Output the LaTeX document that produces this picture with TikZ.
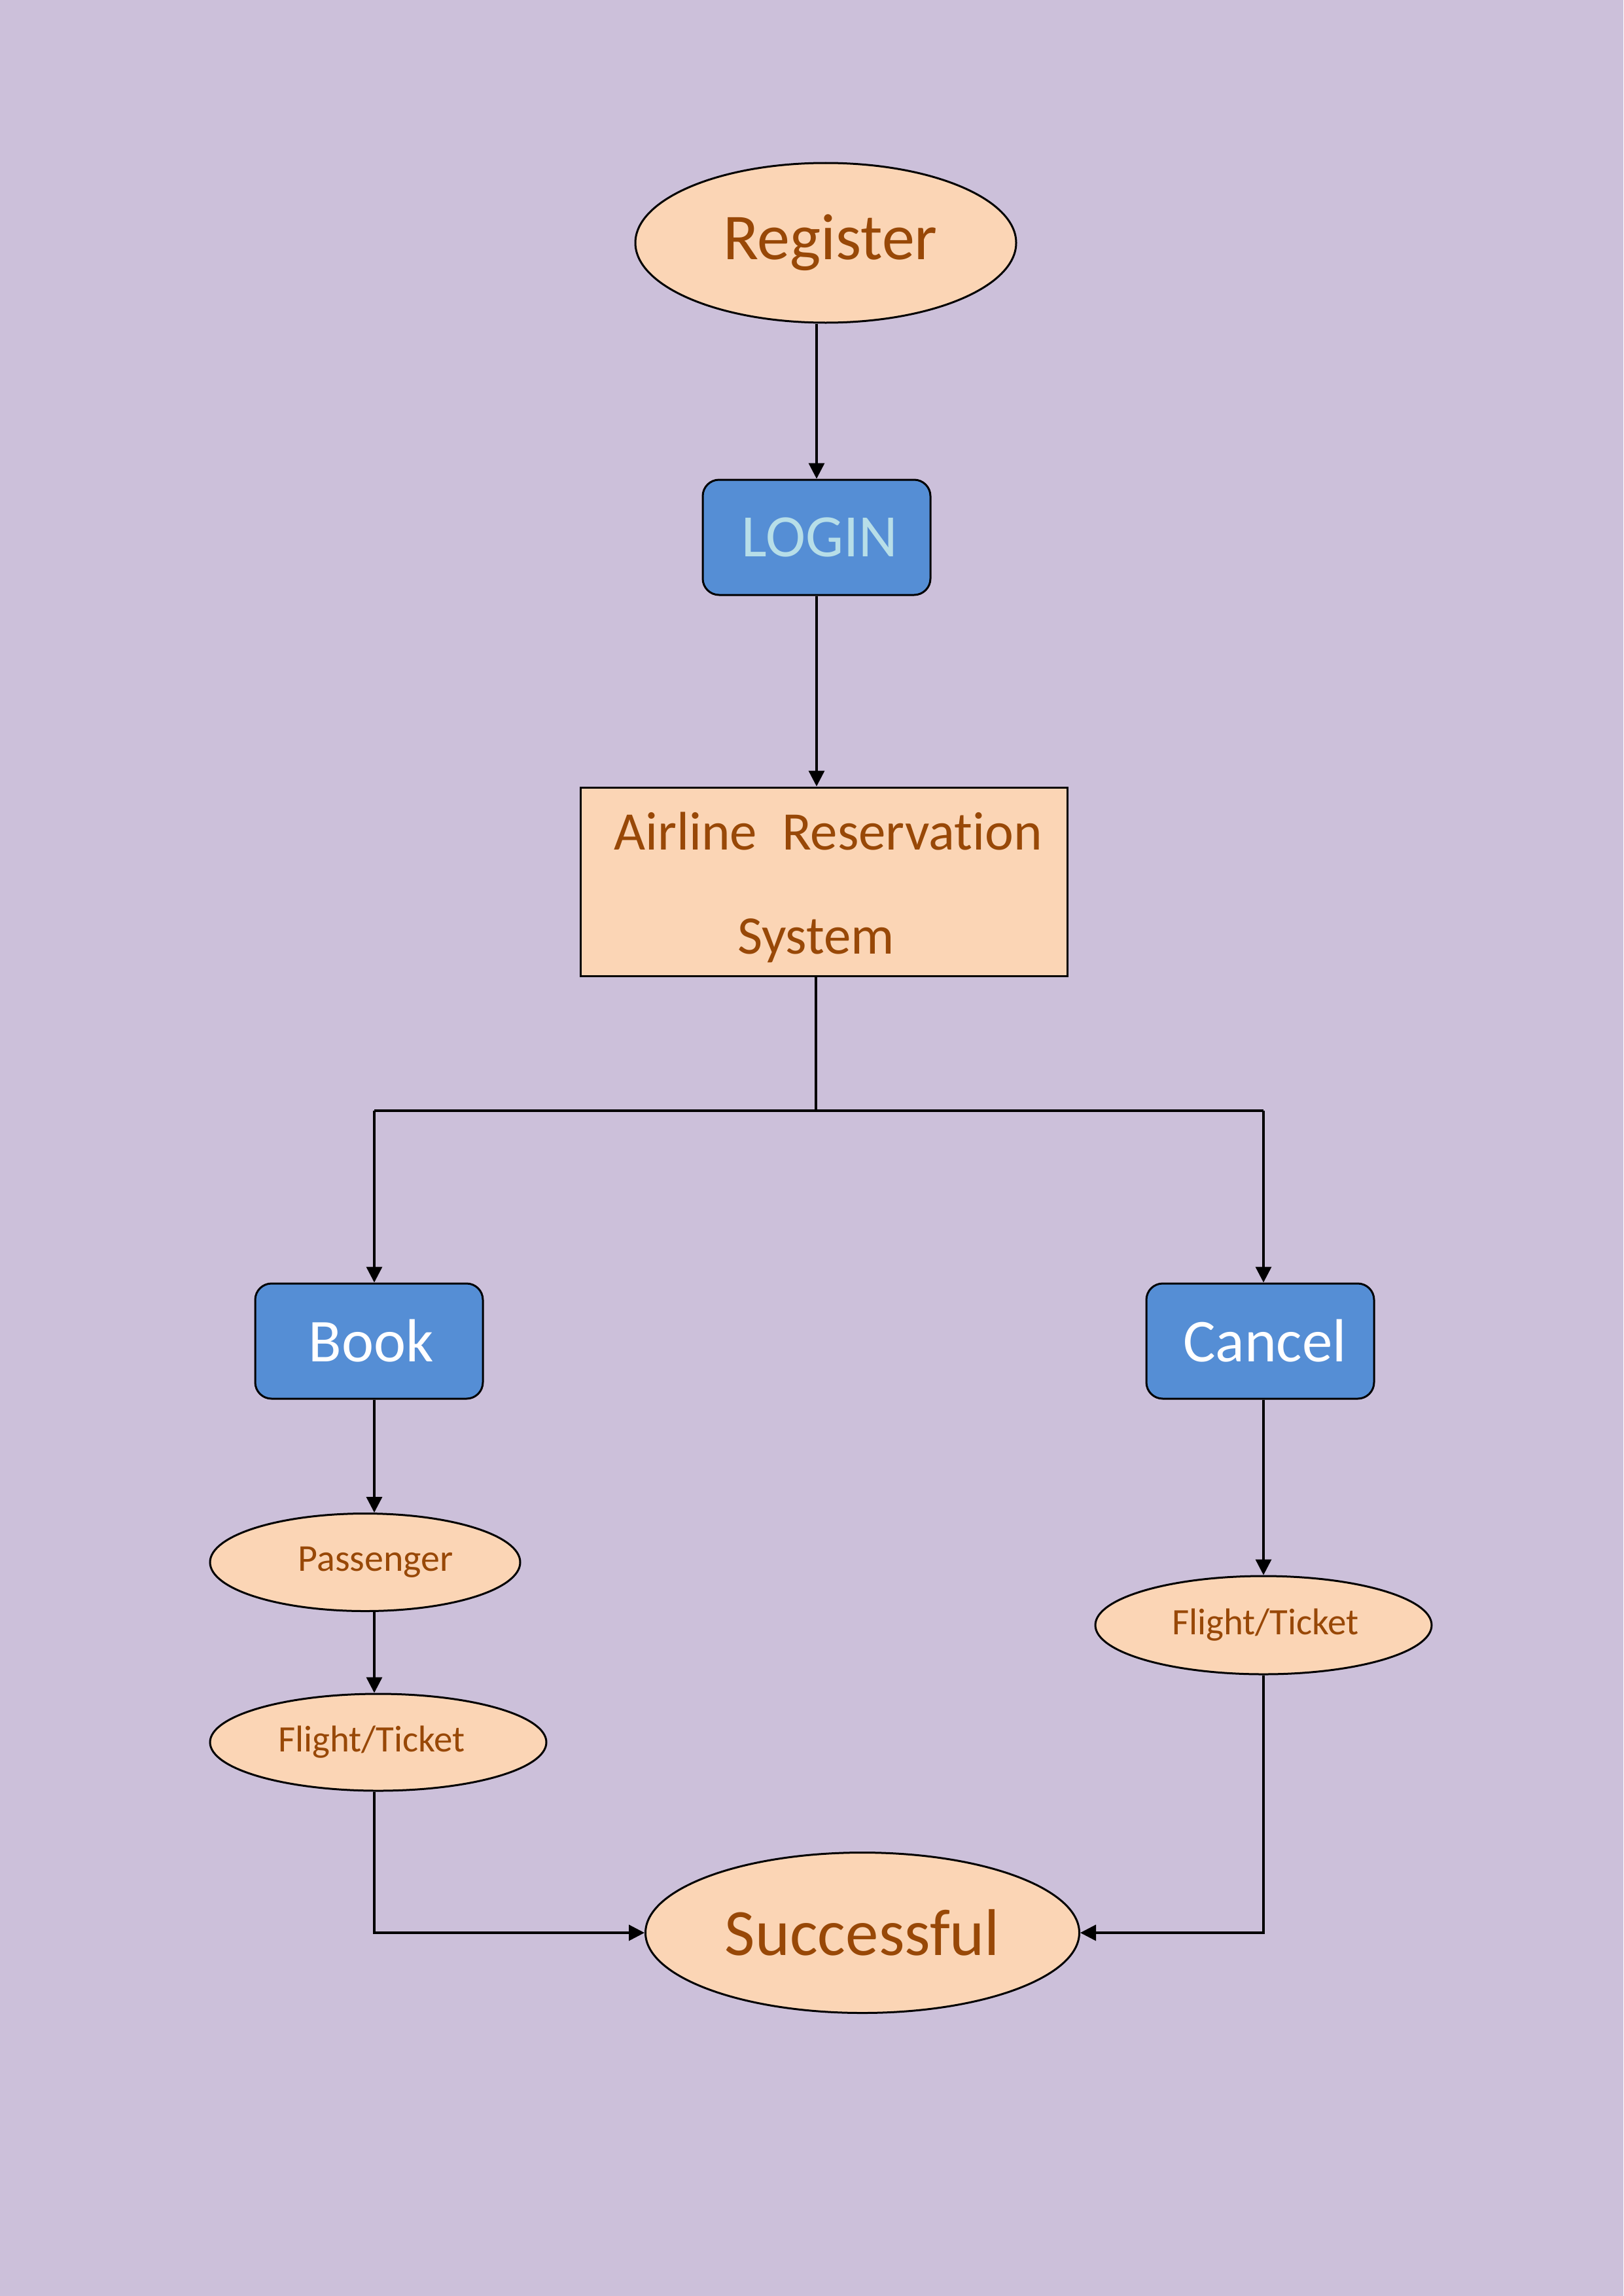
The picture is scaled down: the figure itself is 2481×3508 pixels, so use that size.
\documentclass[tikz,border=0pt]{standalone}
\usepackage{fontspec}
\setmainfont{Carlito}[Ligatures={NoCommon}]
\usetikzlibrary{shapes.geometric,arrows.meta}
\definecolor{bgc}{RGB}{204,192,218}
\definecolor{peach}{RGB}{251,213,181}
\definecolor{brownc}{RGB}{152,72,7}
\definecolor{bluec}{RGB}{85,142,213}
\definecolor{lightaqua}{RGB}{183,222,232}
\begin{document}
\begin{tikzpicture}[x=1pt,y=-1pt,
  conn/.style={line width=3.5pt,draw=black},
  arr/.style={conn,-{Triangle[length=24pt,width=24pt]}},
  oval/.style={ellipse,draw=black,line width=3pt,fill=peach,text=brownc,inner sep=0pt},
  bluebox/.style={rectangle,rounded corners=25pt,draw=black,line width=3pt,fill=bluec,minimum width=348pt,minimum height=176pt,inner sep=0pt},
  sysbox/.style={rectangle,draw=black,line width=3pt,fill=peach,minimum width=744pt,minimum height=288pt,inner sep=0pt},
  systext/.style={text=brownc,font=\fontsize{83}{90}\selectfont,inner sep=0pt}
]
\useasboundingbox (0,0) rectangle (2481,3508);
\fill[bgc] (0,0) rectangle (2481,3508);

% nodes
\node[oval,minimum width=582pt,minimum height=244pt,font=\fontsize{100}{110}\selectfont] (reg) at (1262,371) {\hspace*{14pt}Register};
\node[bluebox,text=lightaqua,font=\fontsize{92}{100}\selectfont] (login) at (1248,821) {\hspace*{10pt}LOGIN};
\node[sysbox] (ars) at (1259,1347) {};
\node[systext,anchor=base west] (arl1) at (938,1298) {Airline\hspace{38pt}Reservation};
\node[systext,anchor=base] (arl2) at (1247,1457) {System};
\node[bluebox,text=white,font=\fontsize{93}{100}\selectfont] (book) at (564,2049) {\hspace*{6pt}Book};
\node[bluebox,text=white,font=\fontsize{93}{100}\selectfont] (cancel) at (1926,2049) {\hspace*{14pt}Cancel};
\node[oval,minimum width=474pt,minimum height=149pt,font=\fontsize{58}{64}\selectfont] (pass) at (558,2387) {\hspace*{32pt}Passenger};
\node[oval,minimum width=514pt,minimum height=148pt,font=\fontsize{57}{64}\selectfont] (fl1) at (578,2662) {Flight/Ticket\hspace*{20pt}};
\node[oval,minimum width=514pt,minimum height=150pt,font=\fontsize{57}{64}\selectfont] (fl2) at (1931,2483) {\hspace*{6pt}Flight/Ticket};
\node[oval,minimum width=663pt,minimum height=245pt,font=\fontsize{101}{110}\selectfont] (succ) at (1318,2953) {Successful};

% junction coordinates
\coordinate (jn) at (1247,1697);
\coordinate (lc) at (572,1697);
\coordinate (rc) at (1931,1697);

% connectors
\draw[arr] (reg.south -| login.north) -- (login.north);
\draw[arr] (login.south) -- (login.south |- ars.north);
\draw[conn] (ars.south -| jn) -- (jn);
\draw[conn] (lc) -- (rc);
\draw[arr] (lc) -- (lc |- book.north);
\draw[arr] (rc) -- (rc |- cancel.north);
\draw[arr] (book.south -| lc) -- (lc |- pass.north);
\draw[arr] (lc |- pass.south) -- (lc |- fl1.north);
\draw[arr] (rc |- cancel.south) -- (rc |- fl2.north);
\draw[arr] (lc |- fl1.south) -- (lc |- succ.west) -- (succ.west);
\draw[arr] (rc |- fl2.south) -- (rc |- succ.east) -- (succ.east);
\end{tikzpicture}
\end{document}
